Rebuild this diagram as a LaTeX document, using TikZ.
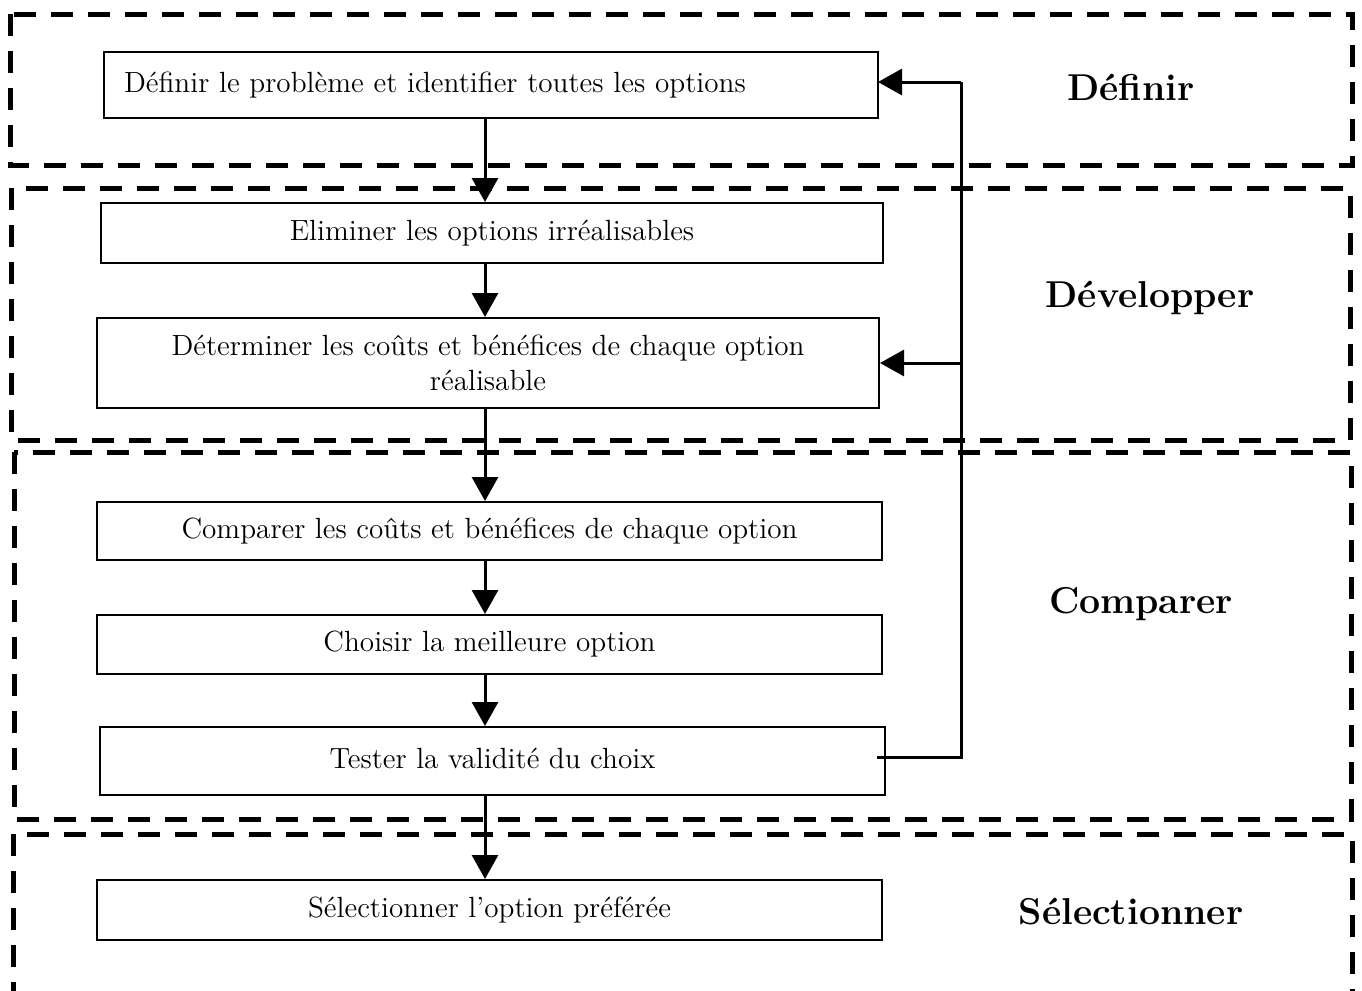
\documentclass[tikz,border=0pt]{standalone}
\usetikzlibrary{arrows.meta}
\begin{document}
\begin{tikzpicture}[x=0.5pt,y=-0.5pt,
  stepbox/.style={draw,line width=1pt,inner sep=0pt,font=\fontsize{14.6}{17.5}\selectfont,align=center},
  phase/.style={draw,line width=2.5pt,dash pattern=on 11pt off 7.5pt},
  phaselabel/.style={font=\fontsize{18.7}{22}\selectfont\bfseries},
  arr/.style={line width=1.5pt,-{Triangle[length=12pt,width=13pt]}},
  fbline/.style={line width=1.5pt}]
\clip (0,0) rectangle (1362,991);
\fill[white] (0,0) rectangle (1362,991);
% phase frames
\draw[phase] (10,14) rectangle (1352,165);
\draw[phase] (11,188) rectangle (1350,440);
\draw[phase] (14,452) rectangle (1351,819);
\draw[phase] (13,834) rectangle (1352,1030);
% labels
\node[phaselabel] (lDef) at (1131,87) {Définir};
\node[phaselabel] (lDev) at (1150,298) {Développer};
\node[phaselabel] (lCmp) at (1141,604) {Comparer};
\node[phaselabel] (lSel) at (1131,912) {Sélectionner};
% boxes
\node[stepbox,minimum width=387pt,minimum height=33pt,text width=367pt,align=left] (b1) at (491,85) {Définir le problème et identifier toutes les options};
\node[stepbox,minimum width=391pt,minimum height=30pt] (b2) at (492,233) {Eliminer les options irréalisables};
\node[stepbox,minimum width=391pt,minimum height=45pt] (b3) at (488,363) {Déterminer les coûts et bénéfices de chaque option\\réalisable};
\node[stepbox,minimum width=392.5pt,minimum height=29pt] (b4) at (489.5,531) {Comparer les coûts et bénéfices de chaque option};
\node[stepbox,minimum width=392.5pt,minimum height=29.5pt] (b5) at (489.5,644.5) {Choisir la meilleure option};
\node[stepbox,minimum width=392.5pt,minimum height=34pt] (b6) at (492.5,761) {\raisebox{3pt}{Tester la validité du choix}};
\node[stepbox,minimum width=392.5pt,minimum height=30pt] (b7) at (489.5,910) {Sélectionner l’option préférée};
% main flow
\coordinate (spine) at (485,0);
\draw[arr] (b1.south -| spine) -- (b2.north -| spine);
\draw[arr] (b2.south -| spine) -- (b3.north -| spine);
\draw[arr] (b3.south -| spine) -- (b4.north -| spine);
\draw[arr] (b4.south -| spine) -- (b5.north -| spine);
\draw[arr] (b5.south -| spine) -- (b6.north -| spine);
\draw[arr] (b6.south -| spine) -- (b7.north -| spine);
% feedback
\coordinate (fbx) at (961,0);
\coordinate (fbstart) at (877,757);
\coordinate (fbtop) at (961,82);
\coordinate (b1in) at (878,82);
\draw[fbline] (fbstart) -- (fbstart -| fbx) -- (fbtop);
\draw[arr] (fbtop) -- (b1in);
\draw[arr] (fbx |- b3.east) -- (b3.east);
\end{tikzpicture}
\end{document}
